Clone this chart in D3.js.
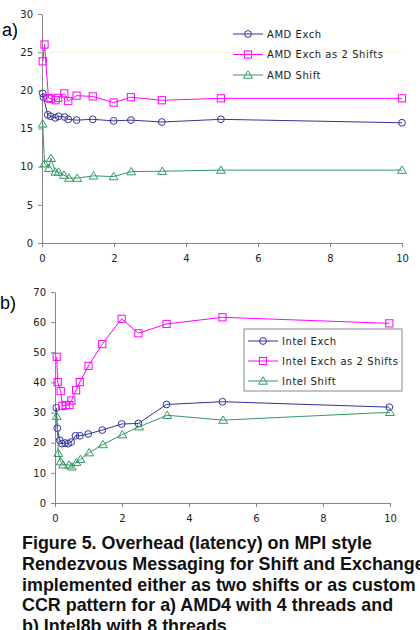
<!DOCTYPE html>
<html>
<head>
<meta charset="utf-8">
<script src="https://cdn.jsdelivr.net/npm/d3@7"></script>
<style>
  body { margin: 0; background: #fff; }
  .tick text { font-family: "DejaVu Sans", sans-serif; font-size: 10px; fill: #222; }
  .axis path, .axis line { stroke: #888; }
</style>
</head>
<body>
<svg id="fig" width="420" height="630"></svg>
<script>
// panel a) AMD4, 4 threads
var amdX       = [0.02, 0.04, 0.16, 0.24, 0.37, 0.46, 0.63, 0.73, 0.96, 1.41, 1.99, 2.47, 3.33, 4.97, 10];
var amdExch    = [19.6, 19.1, 16.8, 16.6, 16.4, 16.6, 16.5, 16.2, 16.1, 16.2, 16.0, 16.1, 15.85, 16.2, 15.75];
var amdX2      = [0.02, 0.07, 0.18, 0.24, 0.38, 0.45, 0.62, 0.73, 0.96, 1.41, 1.99, 2.47, 3.33, 4.97, 10];
var amdExch2   = [23.8, 26.0, 19.0, 18.9, 18.7, 19.0, 19.6, 18.6, 19.3, 19.2, 18.4, 19.1, 18.7, 18.95, 18.95];
var amdX3      = [0.02, 0.07, 0.19, 0.25, 0.37, 0.46, 0.61, 0.75, 0.98, 1.43, 1.99, 2.48, 3.34, 4.97, 10];
var amdShift   = [15.6, 10.4, 9.8, 11.1, 9.3, 9.3, 8.9, 8.5, 8.5, 8.8, 8.7, 9.35, 9.4, 9.55, 9.55];

// panel b) Intel8b, 8 threads
var intelX     = [0.04, 0.07, 0.14, 0.21, 0.30, 0.39, 0.48, 0.61, 0.74, 0.99, 1.41, 1.99, 2.49, 3.33, 5.0, 9.98];
var intelExch  = [31.6, 24.8, 20.8, 19.7, 19.9, 19.7, 20.2, 22.3, 22.3, 22.9, 24.2, 26.2, 26.4, 32.7, 33.6, 31.8];
var intelX2    = [0.05, 0.08, 0.17, 0.22, 0.32, 0.43, 0.49, 0.63, 0.74, 1.0, 1.41, 1.99, 2.49, 3.33, 5.0, 9.98];
var intelExch2 = [48.5, 40.1, 37.1, 32.2, 32.5, 32.5, 34.0, 37.4, 40.1, 45.5, 52.7, 61.1, 56.3, 59.4, 61.6, 59.6];
var intelX3    = [0.05, 0.1, 0.17, 0.24, 0.42, 0.5, 0.64, 0.76, 1.02, 1.43, 2.01, 2.51, 3.35, 5.02, 10];
var intelShift = [28.8, 16.5, 13.7, 12.7, 12.6, 12.0, 13.5, 14.5, 16.7, 19.4, 22.7, 25.3, 29.1, 27.5, 30.1];

var xTicks = [0, 2, 4, 6, 8, 10];
var amdYTicks = [0, 5, 10, 15, 20, 25, 30];
var intelYTicks = [0, 10, 20, 30, 40, 50, 60, 70];

var amdNames = ['AMD Exch', 'AMD Exch as 2 Shifts', 'AMD Shift'];
var intelNames = ['Intel Exch', 'Intel Exch as 2 Shifts', 'Intel Shift'];

var caption = [
    'Figure 5. Overhead (latency) on MPI style',
    'Rendezvous Messaging for Shift and Exchange',
    'implemented either as two shifts or as custom',
    'CCR pattern for a) AMD4 with 4 threads and',
    'b) Intel8b with 8 threads'
];

var colors = ['#333399', '#ff00ff', '#339966'];
var shapes = ['circle', 'square', 'triangle'];

var svg = d3.select('#fig');

function zip(xs, ys) {
    return xs.map(function(x, i) { return { x: x, y: ys[i] }; });
}

function marker(g, shape) {
    if (shape === 'circle') {
        return g.append('circle').attr('r', 3.4);
    } else if (shape === 'square') {
        return g.append('rect').attr('x', -3.6).attr('y', -3.6)
            .attr('width', 7.2).attr('height', 7.2);
    }
    return g.append('path').attr('d', 'M0,-4.2L4.4,3.2L-4.4,3.2Z');
}

function drawMarker(g, shape, color, cx, cy) {
    var m = g.append('g').attr('transform', 'translate(' + cx + ',' + cy + ')');
    marker(m, shape)
        .attr('fill', 'none')
        .attr('stroke', color)
        .attr('stroke-width', 1);
}

function panel(opts) {
    var x = d3.scaleLinear().domain([0, 10]).range([opts.left, opts.right]);
    var y = d3.scaleLinear().domain([0, opts.ymax]).range([opts.bottom, opts.top]);

    svg.append('g')
        .attr('class', 'axis')
        .attr('transform', 'translate(' + opts.left + ',0)')
        .call(d3.axisLeft(y).tickValues(opts.yTicks).tickSize(4).tickSizeOuter(0).tickPadding(opts.ypad));

    svg.append('g')
        .attr('class', 'axis')
        .attr('transform', 'translate(0,' + opts.bottom + ')')
        .call(d3.axisBottom(x).tickValues(xTicks).tickSize(4).tickSizeOuter(0).tickPadding(8));

    if (opts.faint) {
        svg.append('line')
            .attr('x1', x(0)).attr('x2', x(10))
            .attr('y1', y(opts.faint)).attr('y2', y(opts.faint))
            .attr('stroke', '#f4f4cc').attr('stroke-width', 1);
    }

    var line = d3.line()
        .x(function(d) { return x(d.x); })
        .y(function(d) { return y(d.y); });

    opts.series.forEach(function(s, i) {
        var data = zip(s.xs, s.ys);
        svg.append('path')
            .attr('d', line(data))
            .attr('fill', 'none')
            .attr('stroke', colors[i])
            .attr('stroke-width', 1);
        var g = svg.append('g');
        data.forEach(function(d) {
            drawMarker(g, shapes[i], colors[i], x(d.x), y(d.y));
        });
    });

    svg.append('text')
        .attr('x', opts.labelX).attr('y', opts.labelY)
        .attr('font-family', 'Liberation Sans, Arial, sans-serif')
        .attr('font-size', 18)
        .text(opts.label);

    var lg = opts.legend;
    if (lg.box) {
        svg.append('rect')
            .attr('x', lg.box[0]).attr('y', lg.box[1])
            .attr('width', lg.box[2]).attr('height', lg.box[3])
            .attr('fill', '#fff').attr('stroke', '#888').attr('stroke-width', 1);
    }
    opts.names.forEach(function(name, i) {
        var ly = lg.y + i * lg.step;
        svg.append('line')
            .attr('x1', lg.x).attr('x2', lg.x + 30)
            .attr('y1', ly).attr('y2', ly)
            .attr('stroke', colors[i]).attr('stroke-width', 1);
        drawMarker(svg, shapes[i], colors[i], lg.x + 15, ly);
        svg.append('text')
            .attr('x', lg.x + 34).attr('y', ly + 3.5)
            .attr('font-family', 'DejaVu Sans, sans-serif')
            .attr('font-size', 10)
            .attr('letter-spacing', 0.55)
            .attr('fill', '#222')
            .text(name);
    });
}

panel({
    left: 42, right: 402, top: 14, bottom: 243, ymax: 30,
    yTicks: amdYTicks, ypad: 5, faint: 25,
    label: 'a)', labelX: 2, labelY: 36,
    names: amdNames,
    series: [
        { xs: amdX, ys: amdExch },
        { xs: amdX2, ys: amdExch2 },
        { xs: amdX3, ys: amdShift }
    ],
    legend: { x: 233, y: 34, step: 20.5 }
});

panel({
    left: 55, right: 390, top: 292, bottom: 503, ymax: 70,
    yTicks: intelYTicks, ypad: 5,
    label: 'b)', labelX: 0, labelY: 309,
    names: intelNames,
    series: [
        { xs: intelX, ys: intelExch },
        { xs: intelX2, ys: intelExch2 },
        { xs: intelX3, ys: intelShift }
    ],
    legend: { x: 248, y: 341, step: 20, box: [244, 329, 158, 62] }
});

// caption runs past the right and bottom edges, as in the source page
svg.append('g')
    .selectAll('text')
    .data(caption)
    .join('text')
    .attr('x', 22)
    .attr('y', function(d, i) { return 549 + i * 20.8; })
    .attr('font-family', 'Liberation Sans, Arial, sans-serif')
    .attr('font-weight', 'bold')
    .attr('font-size', 17.9)
    .attr('fill', '#111')
    .text(function(d) { return d; });
</script>
</body>
</html>
